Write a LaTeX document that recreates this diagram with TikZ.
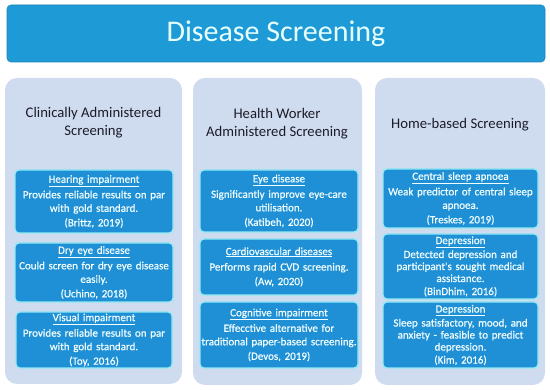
\documentclass[tikz,border=0pt]{standalone}
\usepackage{fontspec}
\setmainfont{Carlito}
\newfontfamily\cardfont[FakeBold=0.5]{Carlito}
\definecolor{titlefill}{HTML}{1E9AD6}
\definecolor{titletext}{HTML}{E6FFFF}
\definecolor{colfill}{HTML}{CFDCF0}
\definecolor{cardfill}{HTML}{2090D6}
\definecolor{cardedge}{HTML}{8FEAF4}
\definecolor{cardtext}{HTML}{F2FFFF}
\definecolor{headtext}{HTML}{1C1C28}
\tikzset{
  titlebox/.style={rectangle, rounded corners=4pt, fill=titlefill, draw=titlefill!85!black, line width=0.6pt, text=titletext, font=\fontsize{30}{33}\selectfont},
  colbox/.style={rectangle, rounded corners=12pt, fill=colfill, draw=none},
  colhead/.style={align=center, text=headtext, font=\fontsize{14.7}{18}\selectfont},
  card/.style={rectangle, rounded corners=4pt, fill=cardfill, draw=cardedge, line width=1.2pt, text=cardtext, align=center, inner sep=0pt, font=\cardfont\fontsize{11}{13.5}\selectfont},
  tightcard/.style={font=\cardfont\fontsize{11}{12}\selectfont},
}
\begin{document}
\begin{tikzpicture}[x=1pt,y=-1pt]
\useasboundingbox (0,0) rectangle (550,390);
\node[titlebox, minimum width=538pt, minimum height=57pt] (title) at (276,33.5) {Disease Screening};
% columns
\node[colbox, minimum width=177pt, minimum height=306pt] (c1) at (93.5,231) {};
\node[colbox, minimum width=169pt, minimum height=307pt] (c2) at (277.5,231.5) {};
\node[colbox, minimum width=170pt, minimum height=307pt] (c3) at (460,231.5) {};
\node[colhead] (h1) at (93.5,123) {Clinically Administered\\Screening};
\node[colhead] (h2) at (277,123.5) {Health Worker\\Administered Screening};
\node[colhead] (h3) at (460,125) {Home-based Screening};
% column 1 cards
\node[card, minimum width=158pt, minimum height=63pt, text width=156pt] (a1) at (94,201.5)
  {\underline{Hearing impairment}\\[2pt]Provides reliable results on par\\with gold standard.\\[1pt](Brittz, 2019)};
\node[card, minimum width=158pt, minimum height=59pt, text width=156pt] (a2) at (94,272.5)
  {\underline{Dry eye disease}\\[2pt]Could screen for dry eye disease\\easily.\\[1pt](Uchino, 2018)};
\node[card, minimum width=156pt, minimum height=56pt, text width=154pt] (a3) at (94,340)
  {\underline{Visual impairment}\\[2pt]Provides reliable results on par\\with gold standard.\\[1pt](Toy, 2016)};
% column 2 cards
\node[card, minimum width=158pt, minimum height=62pt, text width=156pt] (b1) at (279,201)
  {\underline{Eye disease}\\[2pt]Significantly improve eye-care\\utilisation.\\[1pt](Katibeh, 2020)};
\node[card, minimum width=158pt, minimum height=56pt, text width=156pt] (b2) at (279,267)
  {\underline{Cardiovascular diseases}\\[2pt]Performs rapid CVD screening.\\[1pt](Aw, 2020)};
\node[card, minimum width=158pt, minimum height=66pt, text width=156pt] (b3) at (279,335)
  {\underline{Cognitive impairment}\\[2pt]Effecctive alternative for\\traditional paper-based screening.\\[1pt](Devos, 2019)};
% column 3 cards
\node[card, minimum width=155pt, minimum height=59pt, text width=153pt] (d1) at (460.5,198.5)
  {\underline{Central sleep apnoea}\\[2pt]Weak predictor of central sleep\\apnoea.\\[1pt](Treskes, 2019)};
\node[card, tightcard, minimum width=155pt, minimum height=65pt, text width=153pt] (d2) at (460.5,266.5)
  {\underline{Depression}\\[2pt]Detected depression and\\participant's sought medical\\assistance.\\[1pt](BinDhim, 2016)};
\node[card, tightcard, minimum width=155pt, minimum height=66pt, text width=153pt] (d3) at (460.5,335)
  {\underline{Depression}\\[2pt]Sleep satisfactory, mood, and\\anxiety - feasible to predict\\depression.\\[1pt](Kim, 2016)};
\end{tikzpicture}
\end{document}
